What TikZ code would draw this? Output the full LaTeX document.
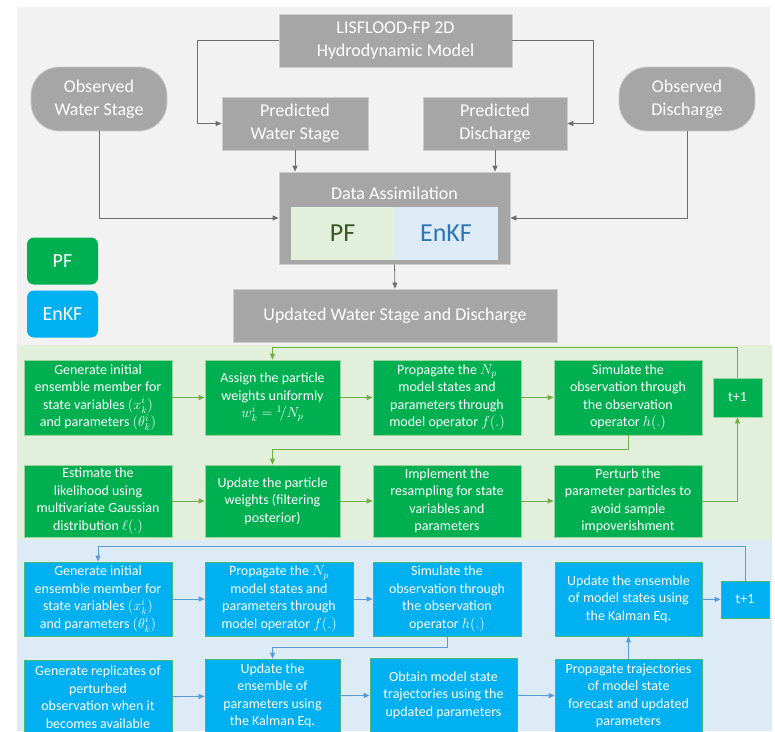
\documentclass[tikz,border=0pt]{standalone}
\usepackage{fontspec}
\setmainfont{Carlito}
\usepackage{amsmath}
\usetikzlibrary{arrows.meta}
\definecolor{panelgray}{RGB}{242,242,242}
\definecolor{boxgray}{RGB}{166,166,166}
\definecolor{edgegray}{RGB}{205,205,205}
\definecolor{linegray}{RGB}{110,110,110}
\definecolor{pfgreen}{RGB}{0,176,80}
\definecolor{pfedge}{RGB}{150,212,160}
\definecolor{pfback}{RGB}{226,239,218}
\definecolor{pfline}{RGB}{112,173,71}
\definecolor{pftext}{RGB}{56,87,35}
\definecolor{enkfblue}{RGB}{0,176,240}
\definecolor{enkfedge}{RGB}{70,185,120}
\definecolor{enkfback}{RGB}{221,235,247}
\definecolor{enkfline}{RGB}{91,155,213}
\definecolor{enkftext}{RGB}{46,117,182}

\begin{document}
\begin{tikzpicture}[x=1pt,y=-1pt,line join=round,>={Triangle[length=6pt,width=5pt]},
    graybox/.style={draw=edgegray,line width=0.8pt,fill=boxgray,text=white,align=center,inner sep=0pt,
        font=\fontsize{18}{23}\selectfont},
    obsbox/.style={graybox,rounded corners=28pt},
    pfbox/.style={draw=pfedge,line width=0.8pt,fill=pfgreen,text=white,align=center,inner sep=0pt,
        font=\fontsize{14}{17.5}\selectfont},
    enkfbox/.style={pfbox,draw=enkfedge,fill=enkfblue},
    keybox/.style={rounded corners=7pt,text=white,minimum width=71pt,minimum height=47pt,
        font=\fontsize{20}{24}\selectfont},
    grayline/.style={->,linegray,line width=0.8pt},
    pfarrow/.style={->,pfline,line width=0.9pt},
    enkfarrow/.style={->,enkfline,line width=0.9pt}]
    \useasboundingbox (0,0) rectangle (775,731);
    \fill [panelgray] (17,7) rectangle (770,345);
    \fill [pfback] (17,345) rectangle (772,540);
    \fill [enkfback] (17,540) rectangle (772,731);

    \node [graybox,minimum width=233pt,minimum height=53pt] (lis) at (395.5,40.5) {LISFLOOD-FP 2D\\Hydrodynamic Model};
    \node [obsbox,minimum width=136pt,minimum height=64pt] (ows) at (99,99) {Observed\\Water Stage};
    \node [obsbox,minimum width=136pt,minimum height=64pt] (ods) at (687,99) {Observed\\Discharge};
    \node [graybox,minimum width=146pt,minimum height=53pt] (pws) at (295,123.5) {Predicted\\Water Stage};
    \node [graybox,minimum width=144pt,minimum height=53pt] (pds) at (495,123.5) {Predicted\\Discharge};
    \node [graybox,minimum width=231pt,minimum height=92pt] (da) at (394.5,218) {};
    \node [text=white,font=\fontsize{18}{23}\selectfont] (dalabel) at (394.5,193) {Data Assimilation};
    \node [fill=pfback,text=pftext,minimum width=103pt,minimum height=53pt,font=\fontsize{26}{30}\selectfont] (dapf) at (342.5,233.5) {PF};
    \node [fill=enkfback,text=enkftext,minimum width=104pt,minimum height=53pt,font=\fontsize{26}{30}\selectfont] (daenkf) at (446,233.5) {EnKF};
    \node [graybox,minimum width=324pt,minimum height=53pt] (upd) at (395,315.5) {Updated Water Stage and Discharge};
    \node [keybox,fill=pfgreen] (keypf) at (62.5,261) {PF};
    \node [keybox,fill=enkfblue] (keyenkf) at (62.5,314) {EnKF};

    \draw [grayline] (lis.west) -- ++(-81,0) |- (pws.west);
    \draw [grayline] (lis.east) -- ++(81,0) |- (pds.east);
    \draw [grayline] (pws.south) -- (pws.south |- da.north);
    \draw [grayline] (pds.south) -- (pds.south |- da.north);
    \draw [grayline] (ows.south) |- (da.west);
    \draw [grayline] (ods.south) |- (da.east);
    \draw [grayline] (da.south) -- (upd.north);

    \node [pfbox,minimum width=148pt,minimum height=75pt] (pf1) at (98,397.5) {Generate initial\\ensemble member for\\state variables $(x_k^i)$\\and parameters $(\theta_k^i)$};
    \node [pfbox,minimum width=135pt,minimum height=75pt] (pf2) at (272.5,397.5) {Assign the particle\\weights uniformly\\$w_k^i={}^{1}\!/N_p$};
    \node [pfbox,minimum width=148pt,minimum height=75pt] (pf3) at (447,397.5) {Propagate the $N_p$\\model states and\\parameters through\\model operator $f(.)$};
    \node [pfbox,minimum width=148pt,minimum height=75pt] (pf4) at (628,397.5) {Simulate the\\observation through\\the observation\\operator $h(.)$};
    \node [pfbox,minimum width=49pt,minimum height=39pt] (pfnext) at (737.5,397.5) {t+1};
    \node [pfbox,minimum width=148pt,minimum height=72pt] (pf5) at (98,501) {Estimate the\\likelihood using\\multivariate Gaussian\\distribution $\ell(.)$};
    \node [pfbox,minimum width=135pt,minimum height=72pt] (pf6) at (272.5,501) {Update the particle\\weights (filtering\\posterior)};
    \node [pfbox,minimum width=148pt,minimum height=72pt] (pf7) at (447,501) {Implement the\\resampling for state\\variables and\\parameters};
    \node [pfbox,minimum width=148pt,minimum height=72pt] (pf8) at (628,501) {Perturb the\\parameter particles to\\avoid sample\\impoverishment};

    \draw [pfarrow] (pf1) -- (pf2);
    \draw [pfarrow] (pf2) -- (pf3);
    \draw [pfarrow] (pf3) -- (pf4);
    \draw [pfarrow] (pf4.south) -- ++(0,14) -| (pf6.north);
    \draw [pfarrow] (pf5) -- (pf6);
    \draw [pfarrow] (pf6) -- (pf7);
    \draw [pfarrow] (pf7) -- (pf8);
    \draw [pfarrow] (pf8.east) -| (pfnext.south);
    \draw [pfarrow] (pfnext.north) -- ++(0,-30) -| (pf2.north);

    \node [enkfbox,minimum width=148pt,minimum height=74pt] (en1) at (98,599) {Generate initial\\ensemble member for\\state variables $(x_k^i)$\\and parameters $(\theta_k^i)$};
    \node [enkfbox,minimum width=148pt,minimum height=74pt] (en2) at (279,599) {Propagate the $N_p$\\model states and\\parameters through\\model operator $f(.)$};
    \node [enkfbox,minimum width=148pt,minimum height=74pt] (en3) at (447,599) {Simulate the\\observation through\\the observation\\operator $h(.)$};
    \node [enkfbox,minimum width=147pt,minimum height=74pt] (en4) at (628.5,599) {Update the ensemble\\of model states using\\the Kalman Eq.};
    \node [enkfbox,minimum width=48pt,minimum height=37pt] (ennext) at (745,599.5) {t+1};
    \node [enkfbox,minimum width=148pt,minimum height=74pt] (en5) at (98,697) {Generate replicates of\\perturbed\\observation when it\\becomes available};
    \node [enkfbox,minimum width=135pt,minimum height=74pt] (en6) at (272.5,696) {Update the\\ensemble of\\parameters using\\the Kalman Eq.};
    \node [enkfbox,minimum width=147pt,minimum height=74pt] (en7) at (443.5,695) {Obtain model state\\trajectories using the\\updated parameters};
    \node [enkfbox,minimum width=147pt,minimum height=74pt] (en8) at (628.5,696) {Propagate trajectories\\of model state\\forecast and updated\\parameters};

    \draw [enkfarrow] (en1) -- (en2);
    \draw [enkfarrow] (en2) -- (en3);
    \draw [enkfarrow] (en3.south) -- ++(0,11) -| (en6.north);
    \draw [enkfarrow] (en5) -- (en6);
    \draw [enkfarrow] (en6) -- (en7);
    \draw [enkfarrow] (en7) -- (en8);
    \draw [enkfarrow] (en8) -- (en4);
    \draw [enkfarrow] (en4) -- (ennext);
    \draw [enkfarrow] (ennext.north) -- ++(0,-34) -| (en1.north);
\end{tikzpicture}
\end{document}
